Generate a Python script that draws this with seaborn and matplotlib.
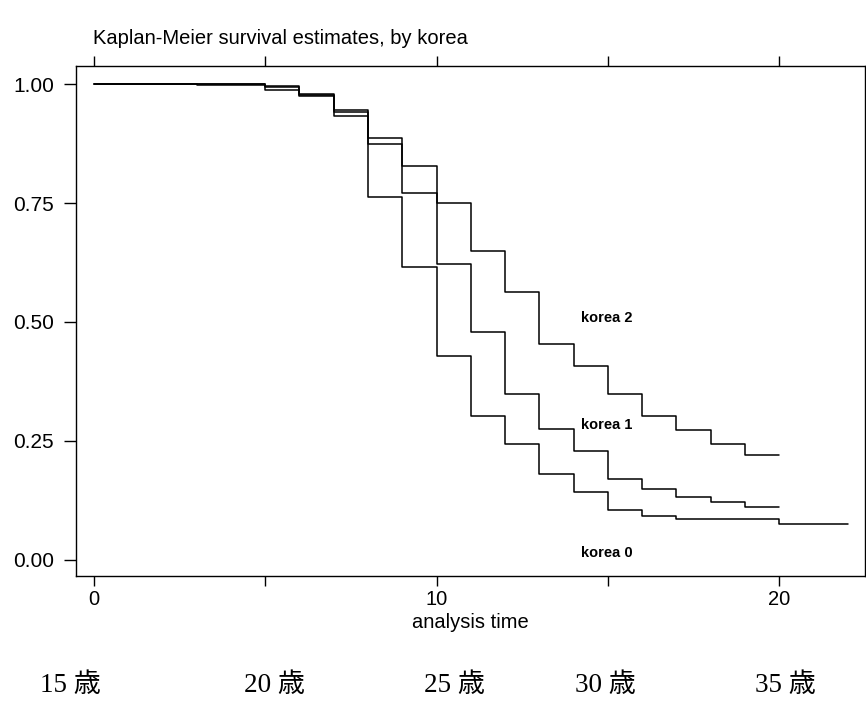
import pandas as pd
import matplotlib
matplotlib.use('Agg')
import matplotlib.pyplot as plt
import seaborn as sns

sns.set_style('white')
plt.rcParams['font.family'] = ['Liberation Sans', 'DejaVu Sans']
plt.rcParams['text.color'] = 'black'
plt.rcParams['axes.labelcolor'] = 'black'

# Kaplan-Meier step values
times_k0 = [0, 3, 5, 6, 7, 8, 9, 10, 11, 12, 13, 14, 15, 16, 17, 20, 22]
surv_k0 = [1.0, 0.998, 0.988, 0.975, 0.933, 0.763, 0.616, 0.429, 0.303,
           0.244, 0.181, 0.143, 0.105, 0.093, 0.086, 0.076, 0.076]

times_k1 = [0, 5, 6, 7, 8, 9, 10, 11, 12, 13, 14, 15, 16, 17, 18, 19, 20]
surv_k1 = [1.0, 0.994, 0.980, 0.945, 0.874, 0.771, 0.622, 0.478, 0.349,
           0.275, 0.228, 0.169, 0.148, 0.132, 0.122, 0.110, 0.110]

times_k2 = [0, 5, 6, 7, 8, 9, 10, 11, 12, 13, 14, 15, 16, 17, 18, 19, 20]
surv_k2 = [1.0, 0.995, 0.978, 0.942, 0.887, 0.828, 0.751, 0.650, 0.564,
           0.454, 0.408, 0.348, 0.303, 0.273, 0.244, 0.221, 0.221]

group_labels = ['korea 0', 'korea 1', 'korea 2']
label_x = [14.2, 14.2, 14.2]
label_y = [0.015, 0.284, 0.508]

age_labels = ['15 歳', '20 歳', '25 歳', '30 歳', '35 歳']
age_pos = [70, 275, 455, 605, 785]  # pixel centres below the chart

df = pd.concat([
    pd.DataFrame({'time': times_k0, 'surv': surv_k0, 'korea': 'korea 0'}),
    pd.DataFrame({'time': times_k1, 'surv': surv_k1, 'korea': 'korea 1'}),
    pd.DataFrame({'time': times_k2, 'surv': surv_k2, 'korea': 'korea 2'}),
])

W, H = 866, 703
fig = plt.figure(figsize=(W / 100, H / 100), dpi=100)
ax = fig.add_axes([76 / W, 1 - 576 / H, (865 - 76) / W, (576 - 66) / H])

sns.lineplot(data=df, x='time', y='surv', hue='korea', units='korea',
             estimator=None, palette=['black'] * 3, drawstyle='steps-post',
             linewidth=1.1, legend=False, ax=ax)

ax.set_xlim(-0.52, 22.5)
ax.set_ylim(-0.034, 1.038)
ax.set_xticks([0, 5, 10, 15, 20])
ax.set_xticklabels(['0', '', '10', '', '20'])
ax.set_yticks([0, 0.25, 0.5, 0.75, 1.0])
ax.set_yticklabels(['0.00', '0.25', '0.50', '0.75', '1.00'])
ax.tick_params(axis='x', direction='out', length=7.5, width=1, top=True,
               bottom=True, labelsize=14.5, pad=2.5, colors='black')
ax.tick_params(axis='y', direction='out', length=9, width=1, left=True,
               labelsize=15, pad=7, colors='black')
for s in ax.spines.values():
    s.set_color('black')
    s.set_linewidth(1.0)

ax.set_xlabel('analysis time', fontsize=14.5, labelpad=3)
ax.set_ylabel('')
fig.text(93 / W, 1 - 38 / H, 'Kaplan-Meier survival estimates, by korea',
         fontsize=14.5, ha='left', va='center')

for lab, x, y in zip(group_labels, label_x, label_y):
    ax.text(x, y, lab, fontsize=10.5, fontweight='bold', ha='left', va='center')

for lab, x in zip(age_labels, age_pos):
    fig.text(x / W, 1 - 686 / H, lab, fontsize=19.5, ha='center', va='center',
             family=['Liberation Serif', 'Noto Sans CJK JP'])

fig.savefig('out.png', dpi=100)
